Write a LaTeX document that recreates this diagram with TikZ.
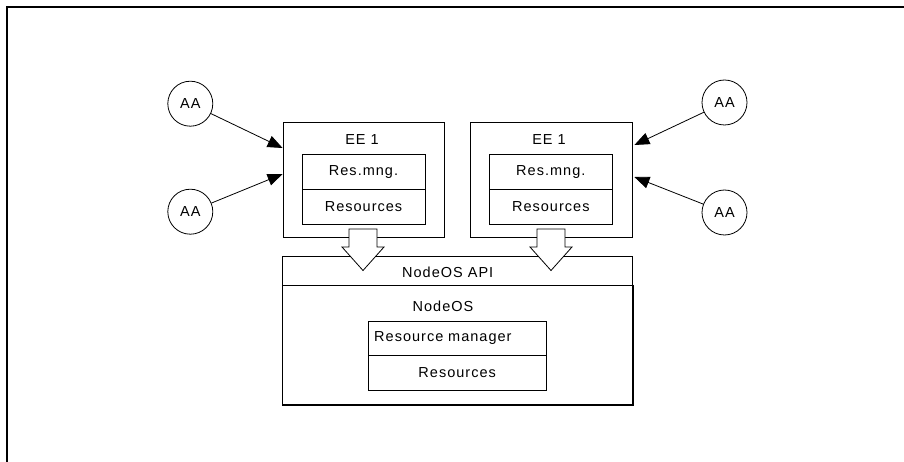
\documentclass[tikz,border=0pt]{standalone}
\usepackage{fontspec}
\setmainfont[LetterSpace=7]{Liberation Sans}
\usetikzlibrary{arrows.meta}

\tikzset{
  box/.style={draw,line width=0.8pt,rectangle,inner sep=0pt,font=\fontsize{14.5}{16}\selectfont},
  lbl/.style={inner sep=0pt,font=\fontsize{14.5}{16}\selectfont},
  agent/.style={draw,line width=0.8pt,circle,minimum size=45pt,inner sep=0pt,font=\fontsize{14.5}{16}\selectfont},
  conn/.style={line width=0.8pt,-{Triangle[length=15pt,width=12pt]}},
  blockarrow/.style={draw,line width=0.8pt,fill=white,line join=miter}
}

\begin{document}
\begin{tikzpicture}[x=1pt,y=-1pt]
        \useasboundingbox (0,0) rectangle (904,462);
        % page frame
        \draw[line width=1.5pt] (7,462) |- (904,7);

        % execution environments
        \node[box,minimum width=161pt,minimum height=115pt] (ee1) at (363.5,179.5) {};
        \node[box,minimum width=162pt,minimum height=115pt] (ee2) at (551,179.5) {};
        \node[lbl] (ee1lbl) at (362,140) {EE 1};
        \node[lbl] (ee2lbl) at (549,140) {EE 1};
        \foreach \n/\x in {1/363.5,2/550.8} {
            \node[box,minimum width=123pt,minimum height=34.3pt] (mng\n) at (\x,172) {Res.mng.};
            \node[box,minimum width=123pt,minimum height=35pt] (res\n) at (\x,206.8) {Resources};
        }

        % active applications
        \node[agent] (aa1) at (190.3,103.7) {AA};
        \node[agent] (aa2) at (190.3,211.7) {AA};
        \node[agent] (aa3) at (724.5,102.5) {AA};
        \node[agent] (aa4) at (724.5,212.5) {AA};
        \draw[conn] (aa1) -- ([yshift=31.5pt]ee1.west);
        \draw[conn] (aa2) -- ([yshift=5.5pt]ee1.west);
        \draw[conn] (aa3) -- ([xshift=2pt,yshift=34.5pt]ee2.east);
        \draw[conn] (aa4) -- ([xshift=2pt,yshift=2.5pt]ee2.east);

        % node OS
        \node[box,minimum width=350pt,minimum height=28.6pt] (api) at (457.3,271) {};
        \node[lbl] (apilbl) at (447.7,272) {NodeOS API};
        \node[box,minimum width=350pt,minimum height=119pt] (nodeos) at (457.3,344.8) {};
        \draw[line width=1.6pt] (nodeos.north east) |- (nodeos.south west);
        \node[lbl] (oslbl) at (443,306) {NodeOS};
        \node[box,minimum width=177.7pt,minimum height=34.7pt,text width=166pt,align=left] (rm) at (457.2,338.3) {Resource manager};
        \node[box,minimum width=177.7pt,minimum height=34.3pt] (res) at (457.2,372.9) {Resources};

        % calls into the API
        \foreach \bx in {363,551} {
            \draw[blockarrow] (\bx-14,229) -- (\bx+14,229) -- (\bx+14,247) -- (\bx+21,247)
                -- (\bx,270.5) -- (\bx-21,247) -- (\bx-14,247) -- cycle;
        }
\end{tikzpicture}
\end{document}
